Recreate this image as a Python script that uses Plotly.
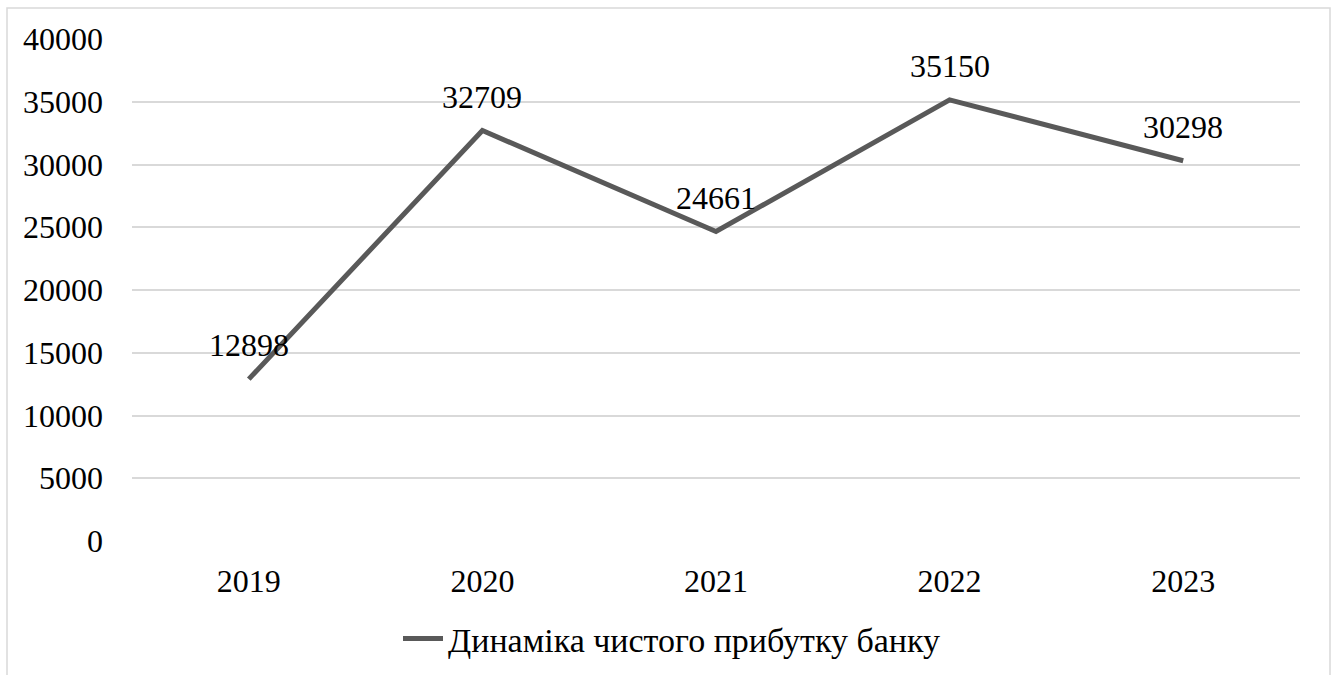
import plotly.graph_objects as go

years = ["2019", "2020", "2021", "2022", "2023"]
profit = [12898, 32709, 24661, 35150, 30298]
series_name = "Динаміка чистого прибутку банку"

W, H = 1336, 675
L, R, T, B = 132, 36, 39, 134
pw, ph = W - L - R, H - T - B
FS = 32
FONT = "Times New Roman, Liberation Serif, serif"

fig = go.Figure()
fig.add_trace(go.Scatter(
    x=years, y=profit, name=series_name, mode="lines",
    line=dict(color="#595959", width=5),
    cliponaxis=False,
))

annotations = []
for i, v in enumerate(profit):
    annotations.append(dict(xref="x", yref="y", x=i, y=v, text=str(v), showarrow=False,
                            xanchor="center", yanchor="middle", yshift=34,
                            font=dict(family=FONT, size=FS, color="#000000")))

fig.update_layout(
    width=W, height=H,
    margin=dict(l=L, r=R, t=T, b=B, autoexpand=False),
    paper_bgcolor="white", plot_bgcolor="white",
    font=dict(family=FONT, color="#000000", size=FS),
    showlegend=True,
    legend=dict(orientation="h", x=(672 - L) / pw, xanchor="center", y=(T + ph - 639) / ph,
                yanchor="middle", font=dict(size=34, family=FONT), itemwidth=40),
    xaxis=dict(type="category", range=[-0.5, 4.5], showgrid=False, showline=False, zeroline=False,
               ticks="", tickfont=dict(size=FS, family=FONT), ticklabelstandoff=18),
    yaxis=dict(range=[0, 40000], dtick=5000, tickformat="d", showgrid=True, gridcolor="#d9d9d9",
               gridwidth=1.5, zeroline=False, showline=False, ticks="",
               tickfont=dict(size=FS, family=FONT), ticklabelstandoff=28),
    annotations=annotations,
    shapes=[dict(type="rect", xref="paper", yref="paper",
                 x0=(7 - L) / pw, x1=(1330 - L) / pw,
                 y0=(T + ph - 720) / ph, y1=(T + ph - 8) / ph,
                 line=dict(color="#d9d9d9", width=1.5), fillcolor="rgba(0,0,0,0)", layer="below")],
)

fig.write_html("out.html")
